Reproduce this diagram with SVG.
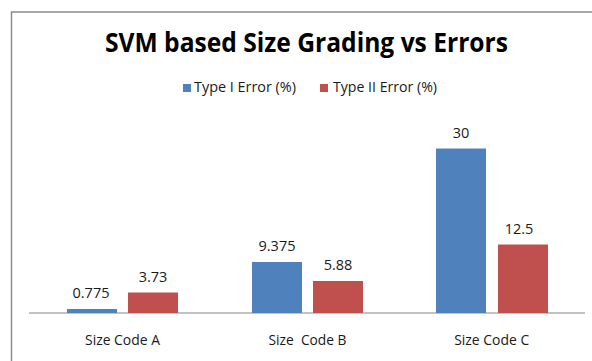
<svg xmlns="http://www.w3.org/2000/svg" width="592" height="361" viewBox="0 0 592 361">
  <style>
    .t { font-family: "Open Sans", "Noto Sans", "Liberation Sans", sans-serif; fill: #1a1a1a; }
    .title { font-size: 26px; font-weight: bold; fill: #000; }
    .lbl { font-size: 14.5px; text-anchor: middle; }
    .cat { font-size: 15px; text-anchor: middle; }
    .leg { font-size: 14px; }
    .s1 { fill: #4F81BD; }
    .s2 { fill: #C0504D; }
  </style>
  <rect x="0" y="0" width="592" height="361" fill="#fff"/>
  <rect id="frame" x="11.5" y="12" width="620" height="400" fill="#fff" stroke="#8c8c8c" stroke-width="1.5"/>
  <g id="title">
    <text class="t title" x="105" y="52" textLength="403" lengthAdjust="spacingAndGlyphs">SVM based Size Grading vs Errors</text>
  </g>
  <g id="legend">
    <rect class="s1" x="183" y="84" width="8" height="8"/>
    <text class="t leg" x="194" y="91.5" textLength="102" lengthAdjust="spacingAndGlyphs">Type I Error (%)</text>
    <rect class="s2" x="320" y="84" width="8" height="8"/>
    <text class="t leg" x="333" y="91.5" textLength="104" lengthAdjust="spacingAndGlyphs">Type II Error (%)</text>
  </g>
  <g id="axis">
    <line x1="29" y1="313" x2="585" y2="313" stroke="#868686" stroke-width="1.2"/>
  </g>
  <g id="codeA">
    <rect class="s1" x="67" y="309" width="50" height="4"/>
    <rect class="s2" x="128" y="292.5" width="50" height="20.5"/>
    <text class="t lbl" x="91" y="297.5">0.775</text>
    <text class="t lbl" x="153" y="281.5">3.73</text>
    <text class="t cat" x="122.5" y="345" textLength="75" lengthAdjust="spacingAndGlyphs">Size Code A</text>
  </g>
  <g id="codeB">
    <rect class="s1" x="252" y="262" width="50" height="51"/>
    <rect class="s2" x="313" y="281" width="50" height="32"/>
    <text class="t lbl" x="277" y="250.7">9.375</text>
    <text class="t lbl" x="338" y="270">5.88</text>
    <text class="t cat" x="307.5" y="345" textLength="78" lengthAdjust="spacingAndGlyphs" xml:space="preserve">Size  Code B</text>
  </g>
  <g id="codeC">
    <rect class="s1" x="436" y="148.5" width="50" height="164.5"/>
    <rect class="s2" x="498" y="244.5" width="50" height="68.5"/>
    <text class="t lbl" x="461" y="137.5">30</text>
    <text class="t lbl" x="519" y="234">12.5</text>
    <text class="t cat" x="491.7" y="345" textLength="75" lengthAdjust="spacingAndGlyphs">Size Code C</text>
  </g>
</svg>
